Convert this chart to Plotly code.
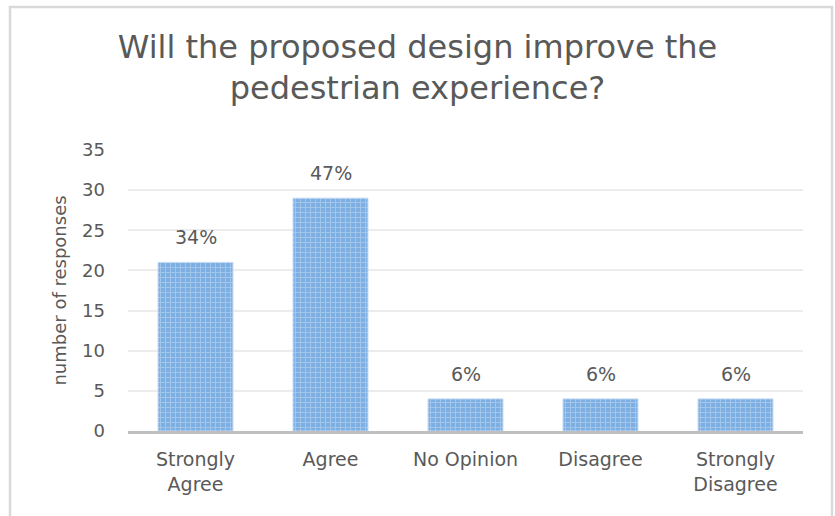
"""Survey bar chart: pedestrian experience question."""

import plotly.graph_objects as go

categories = ["Strongly<br>Agree", "Agree", "No Opinion", "Disagree", "Strongly<br>Disagree"]
responses = [21, 29, 4, 4, 4]
pct_labels = ["34%", "47%", "6%", "6%", "6%"]
y_ticks = [0, 5, 10, 15, 20, 25, 30, 35]

TEXT = "#595959"
FONT = "DejaVu Sans"

fig = go.Figure(go.Bar(
    x=categories,
    y=responses,
    width=0.555,
    marker=dict(
        color="#7eafe3",
        line=dict(color="#c2d9f2", width=1),
        pattern=dict(shape="+", fgcolor="#c8def4", size=5, solidity=0.35),
    ),
    hoverinfo="x+y",
))

# percentage labels above each bar
for cat, val, lab in zip(categories, responses, pct_labels):
    fig.add_annotation(
        x=cat, y=val, text=lab, showarrow=False,
        yanchor="bottom", yshift=12,
        font=dict(family=FONT, size=19, color=TEXT),
    )

# light outer frame like the original chart area
fig.add_shape(
    type="rect", xref="paper", yref="paper",
    x0=-0.1748, x1=1.0430, y0=-0.35, y1=1.5089,
    line=dict(color="#d9d9d9", width=2.5), layer="below",
)

fig.update_layout(
    width=835, height=516,
    margin=dict(l=128, r=32, t=150, b=85),
    paper_bgcolor="white",
    plot_bgcolor="white",
    title=dict(
        text="Will the proposed design improve the<br>pedestrian experience?",
        x=0.5, xanchor="center", y=0.888, yanchor="top",
        font=dict(family=FONT, size=32, color=TEXT),
    ),
    font=dict(family=FONT, color=TEXT),
    showlegend=False,
    bargap=0.445,
)
fig.update_xaxes(
    showline=True, linecolor="#bfbfbf", linewidth=3,
    ticks="", tickfont=dict(size=19, color=TEXT),
    ticklabelstandoff=9,
    showgrid=False,
)
fig.update_yaxes(
    range=[0, 35], tickvals=y_ticks,
    showgrid=True, gridcolor="#ececec", gridwidth=1.5,
    zeroline=False, showline=False, ticks="",
    tickfont=dict(size=18, color=TEXT),
    ticklabelstandoff=22,
    title=dict(text="number of responses", font=dict(size=18, color=TEXT), standoff=10),
)

# drop the default page margin so the figure sits at the window origin
fig.write_html(
    "out.html",
    config={"displayModeBar": False},
    post_script="document.body.style.margin='0';",
)
